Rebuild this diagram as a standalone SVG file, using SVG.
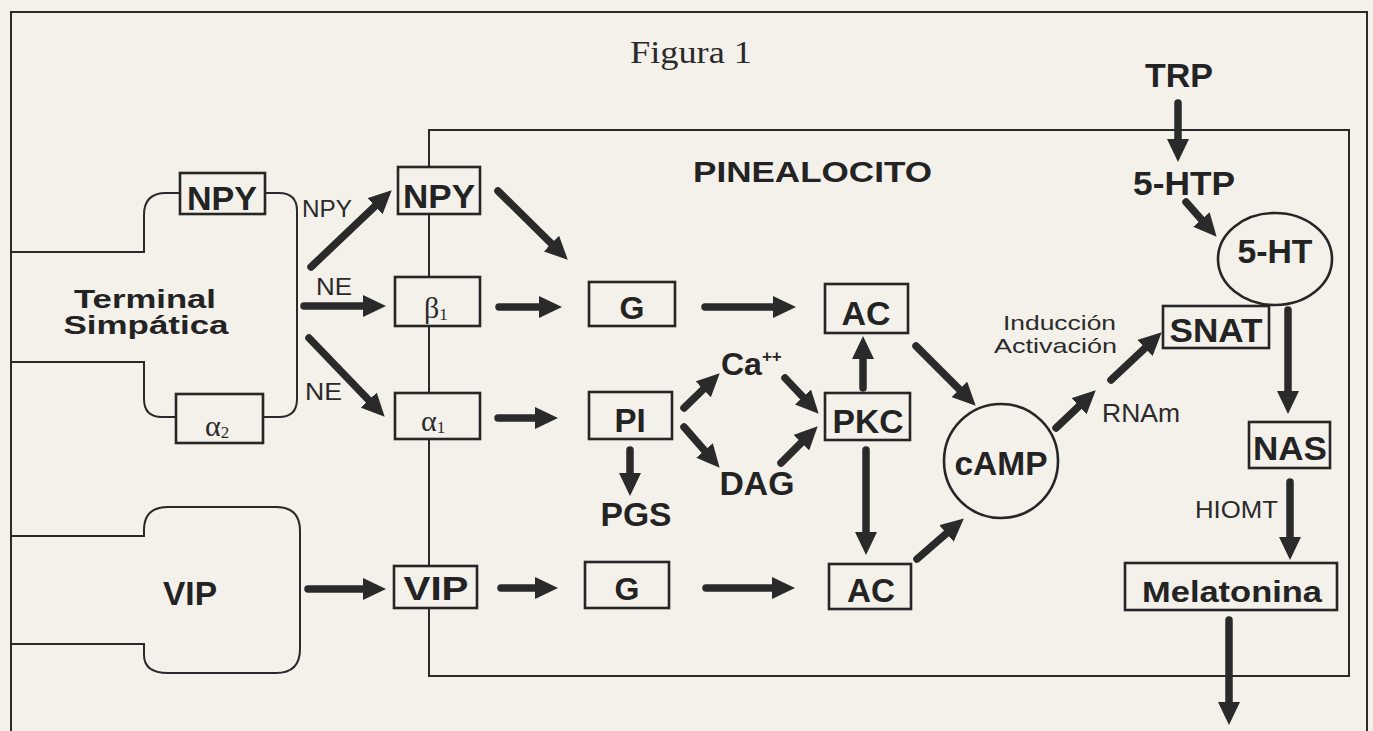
<svg xmlns="http://www.w3.org/2000/svg" width="1373" height="731" viewBox="0 0 1373 731">
  <style>
    .frame { fill: none; stroke: #2a2a2a; stroke-width: 2; }
    .box { fill: #f4f0ea; stroke: #262626; stroke-width: 2.6; }
    .b { font-family: "Liberation Sans", Arial, sans-serif; font-weight: bold; fill: #232323; }
    .r { font-family: "Liberation Sans", Arial, sans-serif; fill: #2a2a2a; }
    .g { font-family: "Liberation Serif", "Times New Roman", serif; fill: #2a2a2a; }
    .arr { fill: none; stroke: #2a2a2a; stroke-width: 7.5; stroke-linecap: round; marker-end: url(#ah); }
  </style>
  <defs>
    <marker id="ah" markerUnits="userSpaceOnUse" markerWidth="24" markerHeight="22" refX="10" refY="11" orient="auto">
      <path d="M0,0 L23,11 L0,22 Z" fill="#2a2a2a"/>
    </marker>
  </defs>

  <rect x="0" y="0" width="1373" height="731" fill="#f4f0ea"/>

  <g id="outer-frame">
    <path class="frame" d="M11,731 V12 H1367 V731"/>
  </g>
  <g id="title">
    <text class="g" x="630" y="63" font-size="32" textLength="122" lengthAdjust="spacingAndGlyphs">Figura 1</text>
  </g>

  <g id="pinealocito">
    <path class="frame" d="M429,130 H1349 V676 H429 Z"/>
    <text class="b" x="693" y="182" font-size="29" textLength="239" lengthAdjust="spacingAndGlyphs">PINEALOCITO</text>
  </g>

  <g id="terminal-simpatica">
    <path class="frame" d="M11,252 H144 V215 Q144,193 166,193 H180"/>
    <path class="frame" d="M265,193 H279 Q297,193 297,211 V399 Q297,417 279,417 H263"/>
    <path class="frame" d="M176,417 H162 Q144,417 144,399 V362 H11"/>
    <text class="b" x="145" y="308" font-size="25" text-anchor="middle" textLength="142" lengthAdjust="spacingAndGlyphs">Terminal</text>
    <text class="b" x="146" y="334" font-size="25" text-anchor="middle" textLength="165" lengthAdjust="spacingAndGlyphs">Simpática</text>
  </g>
  <g id="npy-terminal">
    <rect class="box" x="180" y="173" width="85" height="41"/>
    <text class="b" x="222" y="210" font-size="33" text-anchor="middle" textLength="70" lengthAdjust="spacingAndGlyphs">NPY</text>
  </g>
  <g id="alpha2">
    <rect class="box" x="176" y="394" width="87" height="49"/>
    <text class="g" x="205" y="436" font-size="30">α<tspan font-size="17" dy="2">2</tspan></text>
  </g>

  <g id="vip-terminal">
    <path class="frame" d="M11,536 H144 V530 Q144,507 168,507 H276 Q300,507 300,531 V649 Q300,673 276,673 H168 Q144,673 144,655 V644 H11"/>
    <text class="b" x="190" y="605" font-size="34" text-anchor="middle" textLength="54" lengthAdjust="spacingAndGlyphs">VIP</text>
  </g>

  <g id="labels">
    <text class="r" x="302" y="217" font-size="24" textLength="50" lengthAdjust="spacingAndGlyphs">NPY</text>
    <text class="r" x="316" y="295" font-size="24" textLength="36" lengthAdjust="spacingAndGlyphs">NE</text>
    <text class="r" x="305" y="400" font-size="24" textLength="37" lengthAdjust="spacingAndGlyphs">NE</text>
    <text class="r" x="1116" y="330" font-size="21" text-anchor="end" textLength="113" lengthAdjust="spacingAndGlyphs">Inducción</text>
    <text class="r" x="1117" y="353" font-size="21" text-anchor="end" textLength="123" lengthAdjust="spacingAndGlyphs">Activación</text>
    <text class="r" x="1102" y="422" font-size="25" textLength="78" lengthAdjust="spacingAndGlyphs">RNAm</text>
    <text class="r" x="1195" y="518" font-size="24" textLength="83" lengthAdjust="spacingAndGlyphs">HIOMT</text>
  </g>

  <g id="npy-receptor">
    <rect class="box" x="398" y="167" width="82" height="47"/>
    <text class="b" x="439" y="208" font-size="33" text-anchor="middle" textLength="72" lengthAdjust="spacingAndGlyphs">NPY</text>
  </g>
  <g id="beta1">
    <rect class="box" x="395" y="277" width="85" height="49"/>
    <text class="g" x="424" y="318" font-size="30">β<tspan font-size="17" dy="2">1</tspan></text>
  </g>
  <g id="alpha1">
    <rect class="box" x="395" y="393" width="85" height="46"/>
    <text class="g" x="421" y="431" font-size="30">α<tspan font-size="17" dy="2">1</tspan></text>
  </g>
  <g id="vip-receptor">
    <rect class="box" x="394" y="566" width="83" height="42"/>
    <text class="b" x="436" y="600" font-size="33" text-anchor="middle" textLength="65" lengthAdjust="spacingAndGlyphs">VIP</text>
  </g>

  <g id="g-top">
    <rect class="box" x="589" y="282" width="86" height="44"/>
    <text class="b" x="632" y="319" font-size="32" text-anchor="middle">G</text>
  </g>
  <g id="ac-top">
    <rect class="box" x="825" y="284" width="83" height="49"/>
    <text class="b" x="866" y="325" font-size="33" text-anchor="middle" textLength="49" lengthAdjust="spacingAndGlyphs">AC</text>
  </g>
  <g id="pi">
    <rect class="box" x="589" y="392" width="83" height="47"/>
    <text class="b" x="630" y="432" font-size="33" text-anchor="middle">PI</text>
  </g>
  <g id="ca">
    <text class="b" x="721" y="375" font-size="32">Ca<tspan font-size="17" dy="-13">++</tspan></text>
  </g>
  <g id="dag">
    <text class="b" x="757" y="495" font-size="33" text-anchor="middle" textLength="75" lengthAdjust="spacingAndGlyphs">DAG</text>
  </g>
  <g id="pgs">
    <text class="b" x="636" y="526" font-size="33" text-anchor="middle" textLength="71" lengthAdjust="spacingAndGlyphs">PGS</text>
  </g>
  <g id="pkc">
    <rect class="box" x="825" y="393" width="85" height="47"/>
    <text class="b" x="868" y="433" font-size="33" text-anchor="middle" textLength="71" lengthAdjust="spacingAndGlyphs">PKC</text>
  </g>
  <g id="g-bottom">
    <rect class="box" x="585" y="562" width="84" height="46"/>
    <text class="b" x="627" y="600" font-size="32" text-anchor="middle">G</text>
  </g>
  <g id="ac-bottom">
    <rect class="box" x="829" y="564" width="82" height="45"/>
    <text class="b" x="871" y="602" font-size="33" text-anchor="middle" textLength="48" lengthAdjust="spacingAndGlyphs">AC</text>
  </g>
  <g id="camp">
    <circle cx="1001" cy="461" r="57" fill="#f4f0ea" stroke="#262626" stroke-width="2.6"/>
    <text class="b" x="1001" y="475" font-size="33" text-anchor="middle" textLength="93" lengthAdjust="spacingAndGlyphs">cAMP</text>
  </g>
  <g id="trp">
    <text class="b" x="1179" y="87" font-size="33" text-anchor="middle" textLength="68" lengthAdjust="spacingAndGlyphs">TRP</text>
  </g>
  <g id="5-htp">
    <text class="b" x="1184" y="195" font-size="33" text-anchor="middle" textLength="102" lengthAdjust="spacingAndGlyphs">5-HTP</text>
  </g>
  <g id="5-ht">
    <ellipse cx="1275" cy="259" rx="57" ry="46" fill="#f4f0ea" stroke="#262626" stroke-width="2.6"/>
    <text class="b" x="1275" y="263" font-size="33" text-anchor="middle" textLength="75" lengthAdjust="spacingAndGlyphs">5-HT</text>
  </g>
  <g id="snat">
    <rect class="box" x="1163" y="306" width="106" height="42"/>
    <text class="b" x="1216" y="342" font-size="33" text-anchor="middle" textLength="93" lengthAdjust="spacingAndGlyphs">SNAT</text>
  </g>
  <g id="nas">
    <rect class="box" x="1249" y="422" width="81" height="46"/>
    <text class="b" x="1290" y="460" font-size="33" text-anchor="middle" textLength="74" lengthAdjust="spacingAndGlyphs">NAS</text>
  </g>
  <g id="melatonina">
    <rect class="box" x="1125" y="563" width="212" height="47"/>
    <text class="b" x="1232" y="602" font-size="30" text-anchor="middle" textLength="180" lengthAdjust="spacingAndGlyphs">Melatonina</text>
  </g>

  <g id="connectors">
    <path class="arr" d="M311,267 L382.3,199.3"/>
    <path class="arr" d="M304,306 L373,306"/>
    <path class="arr" d="M309,338 L375.7,407.3"/>
    <path class="arr" d="M308,589 L373,589"/>
    <path class="arr" d="M498,191 L558.5,250.6"/>
    <path class="arr" d="M499,307 L549,307"/>
    <path class="arr" d="M705,307 L783,307"/>
    <path class="arr" d="M498,418 L545,418"/>
    <path class="arr" d="M684,408 L710.4,382.4"/>
    <path class="arr" d="M785,378 L809.8,404.3"/>
    <path class="arr" d="M684,427 L711.1,458"/>
    <path class="arr" d="M781,463 L808.5,435.5"/>
    <path class="arr" d="M630,450 L630,483"/>
    <path class="arr" d="M863,388 L863,349"/>
    <path class="arr" d="M866,450 L866,542"/>
    <path class="arr" d="M501,588 L545,588"/>
    <path class="arr" d="M706,588 L782,588"/>
    <path class="arr" d="M916,346 L966.5,396.5"/>
    <path class="arr" d="M917,559 L954,526.9"/>
    <path class="arr" d="M1056,428 L1086.3,399.3"/>
    <path class="arr" d="M1111,380 L1152.3,341.2"/>
    <path class="arr" d="M1178,103 L1178,149"/>
    <path class="arr" d="M1186,202 L1208,227"/>
    <path class="arr" d="M1288,310 L1288,401"/>
    <path class="arr" d="M1290,482 L1290,547"/>
    <path class="arr" d="M1229,620 L1229,712"/>
  </g>
</svg>
